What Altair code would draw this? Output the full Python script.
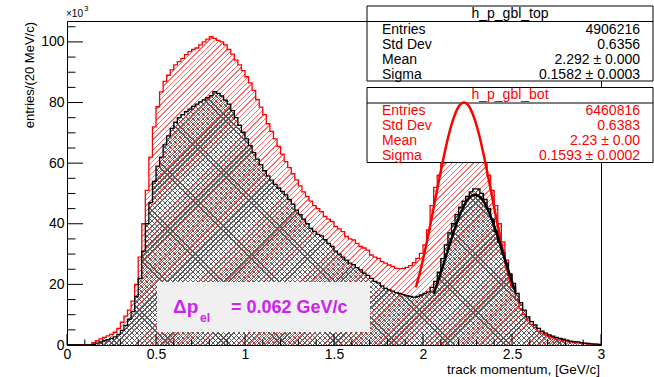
import math
import altair as alt
import pandas as pd

# ---------------- data ----------------
bin_width = 0.02
x_max = 3.0
y_max = 106.9

# h_p_gbl_top (black), entries per 20 MeV/c bin, in thousands
top_counts = [
    0, 0, 0, 0, 0, 0, 0, 0.2, 0.6, 1.0,
    1.4, 1.8, 2.2, 2.7, 3.5, 4.8, 6.5, 8.5, 11, 16,
    22, 31, 40, 47, 54, 59, 62, 66, 69, 71.5,
    73.5, 75, 76, 77, 77.8, 78.7, 79.5, 80.2, 80.9, 81.6,
    82.3, 83.6, 83, 82.2, 80.8, 79.5, 77.3, 75, 72.5, 70.2,
    68, 65.8, 63.5, 61.3, 59.5, 57.5, 55.8, 54.4, 53, 51.8,
    50.7, 49.5, 48, 46.5, 44.5, 43, 41.5, 40, 38.5, 37.5,
    36.5, 36, 34.8, 33.5, 32.5, 31, 30, 29, 28, 27,
    26.5, 25.5, 24.8, 23.7, 23, 22, 21, 20.5, 19.5, 18.7,
    18.2, 17.8, 17.3, 17, 16.6, 16.3, 16, 15.8, 16, 16.5,
    17, 17.5, 19, 21, 24, 28.5, 33, 37, 40, 43,
    45.5, 47.5, 49, 50.5, 51.5, 51.5, 50, 48, 45, 41.5,
    37.5, 34, 30.5, 27, 23.5, 20.3, 17, 14, 11.5, 9.3,
    7.7, 6.6, 5.5, 4.6, 3.9, 3.3, 2.9, 2.5, 2.2, 1.9,
    1.6, 1.3, 1.1, 1.0, 0.8, 0.6, 0.5, 0.4, 0.3, 0.2,
]

# h_p_gbl_bot (red), entries per 20 MeV/c bin, in thousands
bot_counts = [
    0, 0, 0, 0, 0, 0, 0, 0.8, 1.4, 2.0,
    2.5, 3.0, 3.5, 4.2, 5.5, 7.5, 9.5, 11.5, 14.5, 20,
    29, 40, 51, 62, 72, 78.6, 83.5, 87, 89, 90.8,
    92.4, 93.5, 94.6, 95.8, 96.8, 97.5, 98, 99, 100, 100.9,
    101.7, 101.2, 100.5, 100, 99, 97.5, 96, 94, 92.4, 90.5,
    88.5, 86.5, 84, 81, 78.5, 76, 73, 70.5, 68, 65.5,
    63, 60.5, 58.5, 56.5, 54.5, 52.5, 50.5, 49, 47.5, 46,
    45, 44, 42.4, 41.5, 40.7, 39.1, 38.3, 37.4, 35.8, 35,
    34.7, 33.5, 32.5, 32, 31.3, 29.7, 29, 28.6, 27.5, 27,
    26.4, 25.9, 25.3, 25.2, 25.3, 25.6, 26.2, 27.2, 28.6, 30.2,
    33, 38, 46, 52, 56, 60, 64, 68, 72, 75.5,
    78, 79.5, 80, 79.5, 78, 75, 70, 63, 56, 51,
    46, 40, 34, 28, 23, 19, 15, 12, 10, 8.2,
    6.8, 5.7, 4.6, 3.9, 3.3, 2.8, 2.4, 2.0, 1.7, 1.5,
    1.2, 1.0, 0.9, 0.7, 0.6, 0.5, 0.4, 0.3, 0.3, 0.2,
]

# Gaussian fit curves
red_fit_x = [1.96, 1.99, 2.02, 2.05, 2.08, 2.11, 2.14, 2.17, 2.20, 2.23,
             2.26, 2.29, 2.32, 2.35, 2.38, 2.41, 2.44, 2.47, 2.50]
red_fit_y = [19.0, 25.7, 33.6, 42.3, 51.4, 60.2, 68.2, 74.5, 78.6, 80.0,
             78.6, 74.5, 68.2, 60.2, 51.4, 42.3, 33.6, 25.7, 19.0]
black_fit_x = [2.06, 2.09, 2.12, 2.15, 2.18, 2.21, 2.24, 2.27, 2.29, 2.30,
               2.33, 2.36, 2.39, 2.42, 2.45, 2.48, 2.51, 2.52]
black_fit_y = [16.9, 22.0, 27.5, 33.2, 38.6, 43.4, 47.0, 49.1, 49.6, 49.5,
               48.2, 45.2, 40.9, 35.8, 30.1, 24.5, 19.2, 17.6]

x_major = [0, 0.5, 1, 1.5, 2, 2.5, 3]
x_minor = [0.1, 0.2, 0.3, 0.4, 0.6, 0.7, 0.8, 0.9, 1.1, 1.2, 1.3, 1.4,
           1.6, 1.7, 1.8, 1.9, 2.1, 2.2, 2.3, 2.4, 2.6, 2.7, 2.8, 2.9]
y_major = [0, 20, 40, 60, 80, 100]
y_minor = [5, 10, 15, 25, 30, 35, 45, 50, 55, 65, 70, 75, 85, 90, 95, 105]

top_title = "h_p_gbl_top"
top_labels = ["Entries", "Std Dev", "Mean", "Sigma"]
top_values = ["4906216", "0.6356", "2.292 \u00b1 0.000", "0.1582 \u00b1 0.0003"]
bot_title = "h_p_gbl_bot"
bot_labels = ["Entries", "Std Dev", "Mean", "Sigma"]
bot_values = ["6460816", "0.6383", "2.23 \u00b1 0.00", "0.1593 \u00b1 0.0002"]

x_title = "track momentum, [GeV/c]"
y_title = "entries/(20 MeV/c)"

# ---------------- layout ----------------
W, H = 534, 324
FONT = "Liberation Sans"
RED = "#ff0000"
MAG = "#cc22ee"
ky = H / y_max

xs = alt.Scale(domain=[0, x_max], nice=False, zero=False)
ys = alt.Scale(domain=[0, y_max], nice=False, zero=True)
x_axis = alt.Axis(values=x_major, format="~g", ticks=False, domain=False, grid=False,
                  labelFont=FONT, labelFontSize=14, labelColor="black", labelPadding=2,
                  labelFlush=False, title=None)
y_axis = alt.Axis(values=y_major, ticks=False, domain=False, grid=False,
                  labelFont=FONT, labelFontSize=14, labelColor="black", labelPadding=3,
                  title=None)


def X(field):
    return alt.X(field, type="quantitative", scale=xs, axis=x_axis)


def Y(field):
    return alt.Y(field, type="quantitative", scale=ys, axis=y_axis)


def hist_frame(counts):
    xs_ = [round(i * bin_width, 4) for i in range(len(counts))] + [x_max]
    ys_ = list(counts) + [counts[-1]]
    return pd.DataFrame({"x": xs_, "y": ys_})


top_df = hist_frame(top_counts)
bot_df = hist_frame(bot_counts)


def hatch(color, height_px, period, lw, slash=True):
    Wp, Hp = float(W), float(height_px)
    L = (Wp + Hp) / math.sqrt(2)
    c = (Wp + Hp) / (Wp * Wp + Hp * Hp)
    if slash:
        x1, y1, x2, y2 = 0, 0, c * Wp, c * Hp
    else:
        x1, y1, x2, y2 = 0, 1, c * Wp, 1 - c * Hp
    clear = "rgba(255,255,255,0)"
    stops = []
    pos = 0.0
    while pos < L:
        a = round(pos / L, 5)
        b = round(min((pos + lw) / L, 1.0), 5)
        stops += [alt.GradientStop(offset=a, color=clear),
                  alt.GradientStop(offset=a, color=color),
                  alt.GradientStop(offset=b, color=color),
                  alt.GradientStop(offset=b, color=clear)]
        pos += period
    stops.append(alt.GradientStop(offset=1.0, color=clear))
    return alt.Gradient(gradient="linear", stops=stops,
                        x1=round(x1, 5), y1=round(y1, 5), x2=round(x2, 5), y2=round(y2, 5))


red_h = max(bot_counts) * ky
blk_h = max(top_counts) * ky

red_fill = alt.Chart(bot_df).mark_area(
    interpolate="step-after", fill=hatch("#ff6a6a", red_h, 3.8, 0.9, True)
).encode(x=X("x"), y=Y("y"))

blk_fill1 = alt.Chart(top_df).mark_area(
    interpolate="step-after", fill=hatch("#5a5a5a", blk_h, 3.6, 0.85, True)
).encode(x=X("x"), y=Y("y"))
blk_fill2 = alt.Chart(top_df).mark_area(
    interpolate="step-after", fill=hatch("#5a5a5a", blk_h, 3.6, 0.85, False)
).encode(x=X("x"), y=Y("y"))

red_line = alt.Chart(bot_df).mark_line(
    interpolate="step-after", color=RED, strokeWidth=1.3
).encode(x=X("x"), y=Y("y"))
blk_line = alt.Chart(top_df).mark_line(
    interpolate="step-after", color="black", strokeWidth=1.3
).encode(x=X("x"), y=Y("y"))

# ticks (ROOT style, inward)
xmaj_df = pd.DataFrame({"t": x_major})
xmin_df = pd.DataFrame({"t": x_minor})
ymaj_df = pd.DataFrame({"t": y_major})
ymin_df = pd.DataFrame({"t": y_minor})
xmaj_ticks = alt.Chart(xmaj_df).mark_rule(color="black", strokeWidth=1).encode(
    x=X("t"), y=alt.value(H), y2=alt.value(H - 11))
xmin_ticks = alt.Chart(xmin_df).mark_rule(color="black", strokeWidth=1).encode(
    x=X("t"), y=alt.value(H), y2=alt.value(H - 5.5))
ymaj_ticks = alt.Chart(ymaj_df).mark_rule(color="black", strokeWidth=1).encode(
    y=Y("t"), x=alt.value(0), x2=alt.value(16))
ymin_ticks = alt.Chart(ymin_df).mark_rule(color="black", strokeWidth=1).encode(
    y=Y("t"), x=alt.value(0), x2=alt.value(8.5))

one = pd.DataFrame({"a": [0]})

# annotation box
ann_box = alt.Chart(one).mark_rect(fill="#f0f0f0").encode(
    x=alt.value(90), x2=alt.value(303), y=alt.value(261), y2=alt.value(311))
ann_dp = alt.Chart(one).mark_text(text="\u0394p", font=FONT, fontSize=19, fontWeight="bold",
                                  color=MAG, align="left", baseline="alphabetic").encode(
    x=alt.value(106), y=alt.value(292))
ann_el = alt.Chart(one).mark_text(text="el", font=FONT, fontSize=12, fontWeight="bold",
                                  color=MAG, align="left", baseline="alphabetic").encode(
    x=alt.value(133), y=alt.value(301))
ann_val = alt.Chart(one).mark_text(text="= 0.062 GeV/c", font=FONT, fontSize=18,
                                   fontWeight="bold", color=MAG, align="left",
                                   baseline="alphabetic").encode(
    x=alt.value(164), y=alt.value(292))


def stats_box(title, labels, values, top, color):
    bx0, bx1 = 300, 586
    box = alt.Chart(one).mark_rect(fill="white", stroke="black", strokeWidth=1).encode(
        x=alt.value(bx0), x2=alt.value(bx1), y=alt.value(top), y2=alt.value(top + 75))
    sep = alt.Chart(one).mark_rule(color="black", strokeWidth=1).encode(
        x=alt.value(bx0), x2=alt.value(bx1), y=alt.value(top + 15.5), y2=alt.value(top + 15.5))
    ttl = alt.Chart(one).mark_text(text=title, font=FONT, fontSize=14, color=color,
                                   align="center", baseline="middle").encode(
        x=alt.value((bx0 + bx1) / 2), y=alt.value(top + 7.5))
    df = pd.DataFrame({"lab": labels, "val": values,
                       "py": [top + 23.5 + 15 * i for i in range(len(labels))]})
    labs = alt.Chart(df).mark_text(font=FONT, fontSize=14, color=color, align="left",
                                   baseline="middle").encode(
        x=alt.value(315), y=alt.Y("py:Q", scale=None, axis=None), text="lab:N")
    vals = alt.Chart(df).mark_text(font=FONT, fontSize=14, color=color, align="right",
                                   baseline="middle").encode(
        x=alt.value(573), y=alt.Y("py:Q", scale=None, axis=None), text="val:N")
    return [box, sep, ttl, labs, vals]


top_box = stats_box(top_title, top_labels, top_values, -15, "black")
bot_box = stats_box(bot_title, bot_labels, bot_values, 66.5, RED)

red_fit = alt.Chart(pd.DataFrame({"x": red_fit_x, "y": red_fit_y})).mark_line(
    interpolate="monotone", color=RED, strokeWidth=2.5).encode(x=X("x"), y=Y("y"))
blk_fit = alt.Chart(pd.DataFrame({"x": black_fit_x, "y": black_fit_y})).mark_line(
    interpolate="monotone", color="black", strokeWidth=2.5).encode(x=X("x"), y=Y("y"))

# exponent and axis titles
exp_main = alt.Chart(one).mark_text(text="\u00d710", font=FONT, fontSize=10, color="black",
                                    align="left", baseline="alphabetic").encode(
    x=alt.value(-1), y=alt.value(-4))
exp_sup = alt.Chart(one).mark_text(text="3", font=FONT, fontSize=8, color="black",
                                   align="left", baseline="alphabetic").encode(
    x=alt.value(17), y=alt.value(-10))
xt = alt.Chart(one).mark_text(text=x_title, font=FONT, fontSize=13.5, color="black",
                              align="right", baseline="middle").encode(
    x=alt.value(533), y=alt.value(349))
yt = alt.Chart(one).mark_text(text=y_title, font=FONT, fontSize=13, color="black",
                              align="right", baseline="middle", angle=270).encode(
    x=alt.value(-37), y=alt.value(1))

layers = [red_fill, blk_fill1, blk_fill2, red_line, blk_line,
          xmaj_ticks, xmin_ticks, ymaj_ticks, ymin_ticks,
          ann_box, ann_dp, ann_el, ann_val] + top_box + bot_box + [
          red_fit, blk_fit, exp_main, exp_sup, xt, yt]

chart = alt.layer(*layers).properties(
    width=W, height=H,
    padding={"left": 67, "top": 21, "right": 53, "bottom": 32},
    autosize="none",
    background="white",
).configure_view(stroke="black", strokeWidth=1)

chart.save("out.html", embed_options={"renderer": "svg", "actions": False})
